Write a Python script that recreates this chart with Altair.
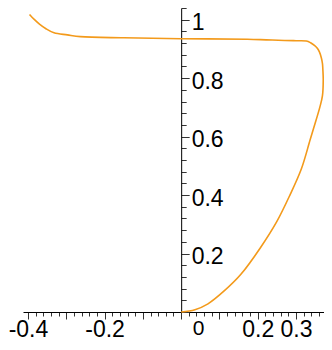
import altair as alt
import pandas as pd

# Curve points (parametric order, from the origin)
curve_x = [0.0, 0.036, 0.070, 0.113, 0.156, 0.207, 0.250, 0.284, 0.314, 0.337,
           0.352, 0.362, 0.369, 0.371, 0.370, 0.369, 0.366, 0.361, 0.355, 0.348,
           0.338, 0.327, 0.300, 0.270, 0.222, 0.173, 0.0, -0.150, -0.263, -0.297,
           -0.332, -0.353, -0.370, -0.383, -0.396]
curve_y = [0.0, 0.008, 0.028, 0.073, 0.129, 0.220, 0.310, 0.400, 0.490, 0.590,
           0.655, 0.700, 0.740, 0.795, 0.830, 0.850, 0.870, 0.890, 0.903, 0.912,
           0.921, 0.927, 0.928, 0.929, 0.931, 0.933, 0.935, 0.938, 0.942, 0.948,
           0.955, 0.969, 0.985, 1.000, 1.018]

# Axis ticks and labels
x_ticks = [round(i * 0.02, 2) for i in range(-20, 19)]
x_label_values = [-0.4, -0.2, 0.0, 0.2, 0.3]
x_label_texts = ["-0.4", "-0.2", "0", "0.2", "0.3"]
y_ticks = [round(i * 0.04, 2) for i in range(0, 27)]
y_label_values = [0.2, 0.4, 0.6, 0.8, 1.0]
y_label_texts = ["0.2", "0.4", "0.6", "0.8", "1"]

X_DOMAIN = [-0.413, 0.373]
Y_DOMAIN = [0.0, 1.04]
W, H = 301, 304

df = pd.DataFrame({"x": curve_x, "y": curve_y, "order": range(len(curve_x))})


def label_expr(values, texts):
    expr = "''"
    for v, t in reversed(list(zip(values, texts))):
        expr = f"abs(datum.value - ({v})) < 1e-6 ? '{t}' : " + expr
    return expr


x0_px = W * (0 - X_DOMAIN[0]) / (X_DOMAIN[1] - X_DOMAIN[0])
y_axis_offset = -(W - x0_px)

FONT = "Liberation Sans"
IS_ZERO = "abs(datum.value) < 1e-6"

x_axis = alt.Axis(
    values=x_ticks,
    labelExpr=label_expr(x_label_values, x_label_texts),
    tickSize={"condition": {"test": "abs(datum.value*10 - round(datum.value*10)) < 1e-6", "value": 7}, "value": 4},
    labelOffset={"condition": {"test": IS_ZERO, "value": 17}, "value": 0},
    labelPadding={"condition": {"test": IS_ZERO, "value": -2}, "value": -1},
    labelFontSize={"condition": {"test": IS_ZERO, "value": 21}, "value": 23},
    labelFont=FONT, labelColor="black",
    labelOverlap=False, labelFlush=False, labelBound=False,
    domainColor="black", tickColor="#333", grid=False, title=None,
)

y_axis = alt.Axis(
    orient="right",
    offset=y_axis_offset,
    values=y_ticks,
    labelExpr=label_expr(y_label_values, y_label_texts),
    tickSize={"condition": {"test": "abs(datum.value*5 - round(datum.value*5)) < 1e-6", "value": 8}, "value": 5},
    labelPadding=2,
    labelOffset=3,
    labelAlign="left", labelBaseline="middle",
    labelFont=FONT, labelFontSize=23, labelColor="black",
    labelOverlap=False, labelFlush=False, labelBound=False,
    domainColor="black", tickColor="#333", grid=False, title=None,
)

chart = alt.Chart(df).mark_line(
    color="#F39A1B", strokeWidth=1.6, interpolate="catmull-rom", clip=False
).encode(
    x=alt.X("x:Q", scale=alt.Scale(domain=X_DOMAIN, nice=False, zero=False), axis=x_axis),
    y=alt.Y("y:Q", scale=alt.Scale(domain=Y_DOMAIN, nice=False, zero=False), axis=y_axis),
    order="order:Q",
).properties(
    width=W, height=H,
    autosize=alt.AutoSizeParams(type="none"),
    padding={"left": 15, "top": 0, "right": 0, "bottom": 30},
).configure_view(stroke=None)

chart.save("out.html", embed_options={"renderer": "svg", "actions": False})
